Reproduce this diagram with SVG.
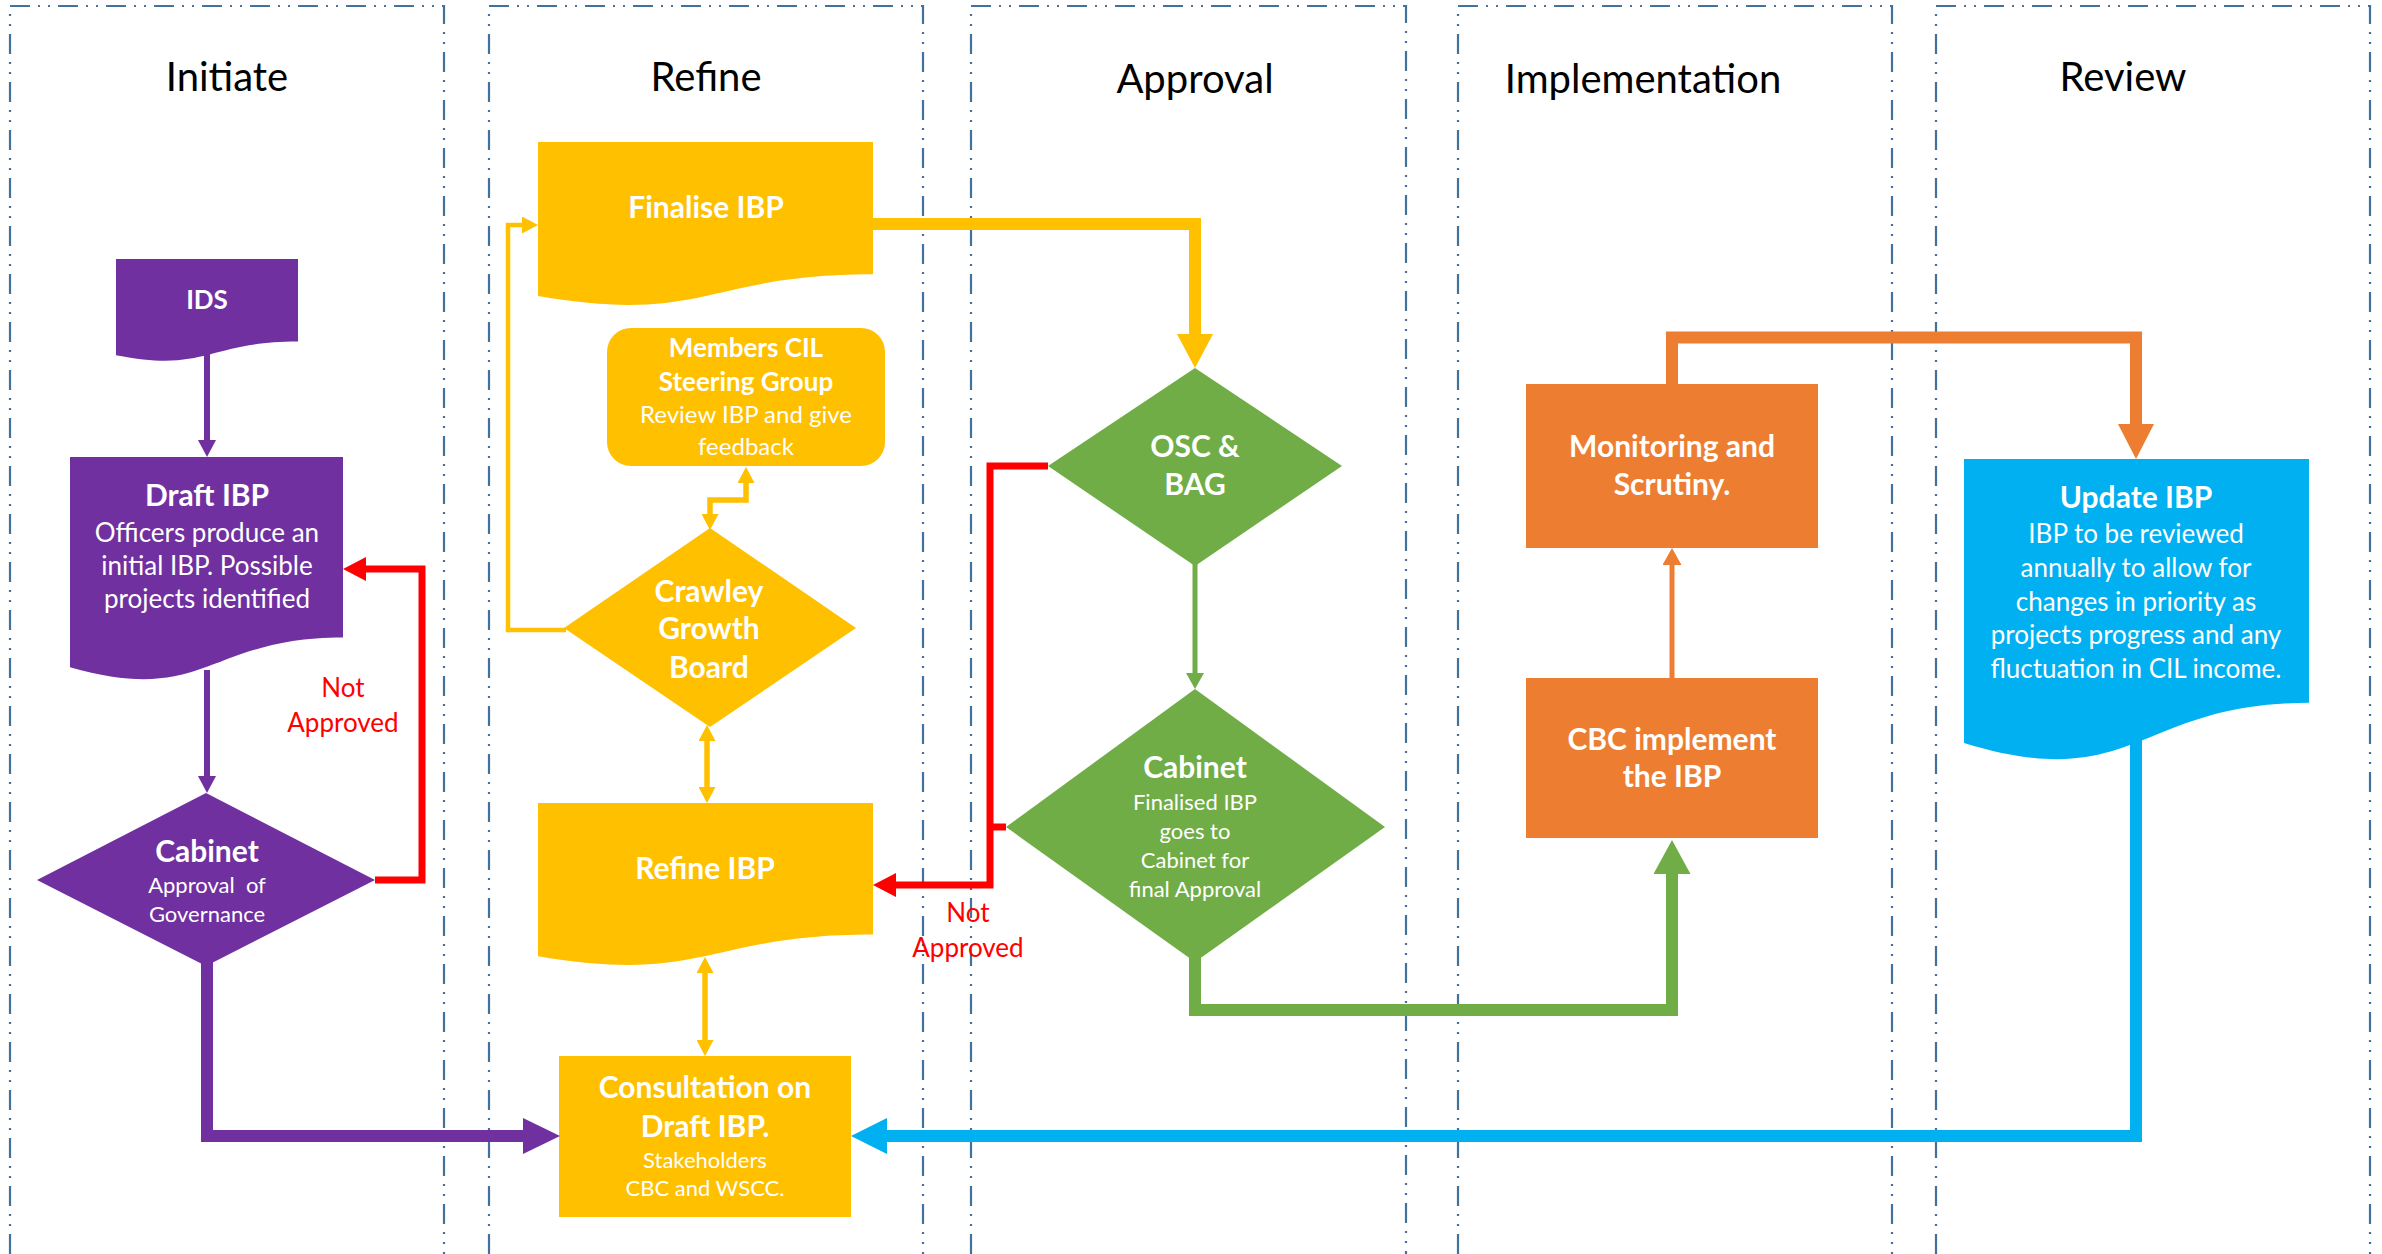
<svg xmlns="http://www.w3.org/2000/svg" width="2382" height="1254" viewBox="0 0 2382 1254">
<style>
.lane{fill:none;stroke:#41719C;stroke-width:2.2;stroke-dasharray:20 8 2 8 2 8}
.lt{font-family:Lato,"Open Sans","Liberation Sans",sans-serif;font-size:40px;fill:#000;text-anchor:middle}
text{font-family:Lato,"Open Sans","Liberation Sans",sans-serif;text-anchor:middle}
.w{fill:#fff}
.b{font-weight:bold;font-size:30px}
.r{font-size:26px}
.s{font-size:22px}
.red{fill:#FF0000;font-size:26px}
.pu{fill:#7030A0}.ye{fill:#FFC000}.gr{fill:#70AD47}.or{fill:#ED7D31}.bl{fill:#00B0F0}
.c{fill:none;stroke-linejoin:miter;stroke-linecap:butt}
</style>
<defs>
<marker id="hPuS" markerUnits="userSpaceOnUse" viewBox="0 0 17 18" refX="0" refY="9" markerWidth="17" markerHeight="18" orient="auto"><path d="M0,0L17,9L0,18Z" fill="#7030A0"/></marker>
<marker id="hPuL" markerUnits="userSpaceOnUse" viewBox="0 0 37 36" refX="0" refY="18" markerWidth="37" markerHeight="36" orient="auto"><path d="M0,0L37,18L0,36Z" fill="#7030A0"/></marker>
<marker id="hRed" markerUnits="userSpaceOnUse" viewBox="0 0 23 24" refX="0" refY="12" markerWidth="23" markerHeight="24" orient="auto"><path d="M0,0L23,12L0,24Z" fill="#FF0000"/></marker>
<marker id="hYeL" markerUnits="userSpaceOnUse" viewBox="0 0 34 36" refX="0" refY="18" markerWidth="34" markerHeight="36" orient="auto"><path d="M0,0L34,18L0,36Z" fill="#FFC000"/></marker>
<marker id="hYeS" markerUnits="userSpaceOnUse" viewBox="0 0 16 17" refX="0" refY="8.5" markerWidth="16" markerHeight="17" orient="auto-start-reverse"><path d="M0,0L16,8.5L0,17Z" fill="#FFC000"/></marker>
<marker id="hGrS" markerUnits="userSpaceOnUse" viewBox="0 0 16 18" refX="0" refY="9" markerWidth="16" markerHeight="18" orient="auto"><path d="M0,0L16,9L0,18Z" fill="#70AD47"/></marker>
<marker id="hGrL" markerUnits="userSpaceOnUse" viewBox="0 0 34 37" refX="0" refY="18.5" markerWidth="34" markerHeight="37" orient="auto"><path d="M0,0L34,18.5L0,37Z" fill="#70AD47"/></marker>
<marker id="hOrS" markerUnits="userSpaceOnUse" viewBox="0 0 17 19" refX="0" refY="9.5" markerWidth="17" markerHeight="19" orient="auto"><path d="M0,0L17,9.5L0,19Z" fill="#ED7D31"/></marker>
<marker id="hOrL" markerUnits="userSpaceOnUse" viewBox="0 0 35 36" refX="0" refY="18" markerWidth="35" markerHeight="36" orient="auto"><path d="M0,0L35,18L0,36Z" fill="#ED7D31"/></marker>
<marker id="hBlL" markerUnits="userSpaceOnUse" viewBox="0 0 36 36" refX="0" refY="18" markerWidth="36" markerHeight="36" orient="auto"><path d="M0,0L36,18L0,36Z" fill="#00B0F0"/></marker>
</defs>
<rect width="2382" height="1254" fill="#fff"/>

<g id="lanes">
<path class="lane" d="M10,1254V6H444V1254"/>
<path class="lane" d="M489,1254V6H923V1254"/>
<path class="lane" d="M971,1254V6H1406V1254"/>
<path class="lane" d="M1458,1254V6H1892V1254"/>
<path class="lane" d="M1936,1254V6H2370V1254"/>
<text class="lt" x="227" y="91">Initiate</text>
<text class="lt" x="706" y="91">Refine</text>
<text class="lt" x="1195" y="93">Approval</text>
<text class="lt" x="1643" y="93">Implementation</text>
<text class="lt" x="2123" y="91">Review</text>
</g>

<g id="ids">
<path class="pu" d="M116,259H298V341.6C207,341.6 207,373.1 116,355.2Z"/>
<text class="w b" x="207" y="309" style="font-size:26px">IDS</text>
</g>

<g id="draft-ibp">
<path class="pu" d="M70,457H343V637.5C206.5,637.5 206.5,706.2 70,667.2Z"/>
<text class="w b" x="207" y="506">Draft IBP</text>
<text class="w r" x="207" y="542">Officers produce an</text>
<text class="w r" x="207" y="575">initial IBP. Possible</text>
<text class="w r" x="207" y="608">projects identified</text>
</g>

<g id="cabinet-governance">
<polygon class="pu" points="206,793 375,880 206,966 37,880"/>
<text class="w b" x="207" y="862">Cabinet</text>
<text class="w s" x="207" y="893" style="white-space:pre">Approval  of</text>
<text class="w s" x="207" y="922">Governance</text>
</g>

<g id="finalise-ibp">
<path class="ye" d="M538,142H873V274.3C705.5,274.3 705.5,324.7 538,296.1Z"/>
<text class="w b" x="706" y="218">Finalise IBP</text>
</g>

<g id="members-cil">
<rect class="ye" x="607" y="328" width="278" height="138" rx="24"/>
<text class="w b" x="746" y="357" style="font-size:26px">Members CIL</text>
<text class="w b" x="746" y="391" style="font-size:26px">Steering Group</text>
<text class="w r" x="746" y="423" style="font-size:24px">Review IBP and give</text>
<text class="w r" x="746" y="455" style="font-size:24px">feedback</text>
</g>

<g id="crawley-growth-board">
<polygon class="ye" points="710,528 856,628 710,727 564,628"/>
<text class="w b" x="709" y="602">Crawley</text>
<text class="w b" x="709" y="639">Growth</text>
<text class="w b" x="709" y="678">Board</text>
</g>

<g id="refine-ibp">
<path class="ye" d="M538,803H873V934.5C705.5,934.5 705.5,984.6 538,956.2Z"/>
<text class="w b" x="705" y="879">Refine IBP</text>
</g>

<g id="consultation">
<rect class="ye" x="559" y="1056" width="292" height="161"/>
<text class="w b" x="705" y="1098">Consultation on</text>
<text class="w b" x="705" y="1137">Draft IBP.</text>
<text class="w s" x="705" y="1168">Stakeholders</text>
<text class="w s" x="705" y="1196">CBC and WSCC.</text>
</g>

<g id="osc-bag">
<polygon class="gr" points="1195,368 1342,466 1195,566 1048,466"/>
<text class="w b" x="1195" y="457">OSC &amp;</text>
<text class="w b" x="1195" y="495">BAG</text>
</g>

<g id="cabinet-final">
<polygon class="gr" points="1195,689 1385,827 1195,962 1006,827"/>
<text class="w b" x="1195" y="778">Cabinet</text>
<text class="w s" x="1195" y="810">Finalised IBP</text>
<text class="w s" x="1195" y="839">goes to</text>
<text class="w s" x="1195" y="868">Cabinet for</text>
<text class="w s" x="1195" y="897">final Approval</text>
</g>

<g id="monitoring">
<rect class="or" x="1526" y="384" width="292" height="164"/>
<text class="w b" x="1672" y="457">Monitoring and</text>
<text class="w b" x="1672" y="495">Scrutiny.</text>
</g>

<g id="cbc-implement">
<rect class="or" x="1526" y="678" width="292" height="160"/>
<text class="w b" x="1672" y="750">CBC implement</text>
<text class="w b" x="1672" y="787">the IBP</text>
</g>

<g id="update-ibp">
<path class="bl" d="M1964,459H2309V702.8C2136.5,702.8 2136.5,795.7 1964,742.9Z"/>
<text class="w b" x="2136" y="508">Update IBP</text>
<text class="w r" x="2136" y="543">IBP to be reviewed</text>
<text class="w r" x="2136" y="577">annually to allow for</text>
<text class="w r" x="2136" y="611">changes in priority as</text>
<text class="w r" x="2136" y="644">projects progress and any</text>
<text class="w r" x="2136" y="678">fluctuation in CIL income.</text>
</g>

<g id="connectors">
<path class="c" stroke="#7030A0" stroke-width="6" d="M207,350V440" marker-end="url(#hPuS)"/>
<path class="c" stroke="#7030A0" stroke-width="6" d="M207,670V776" marker-end="url(#hPuS)"/>
<path class="c" stroke="#7030A0" stroke-width="12" d="M207,950V1136H523" marker-end="url(#hPuL)"/>
<path class="c" stroke="#FF0000" stroke-width="7" d="M375,880H422V569H366" marker-end="url(#hRed)"/>
<path class="c" stroke="#FFC000" stroke-width="12" d="M860,224H1195V334" marker-end="url(#hYeL)"/>
<path class="c" stroke="#FFC000" stroke-width="4.5" d="M566,630H508V225H522" marker-end="url(#hYeS)"/>
<path class="c" stroke="#FFC000" stroke-width="5.5" d="M710,514V500H746V483" marker-start="url(#hYeS)" marker-end="url(#hYeS)"/>
<path class="c" stroke="#FFC000" stroke-width="5.5" d="M707,741V787" marker-start="url(#hYeS)" marker-end="url(#hYeS)"/>
<path class="c" stroke="#FFC000" stroke-width="5.5" d="M705,973V1040" marker-start="url(#hYeS)" marker-end="url(#hYeS)"/>
<path class="c" stroke="#70AD47" stroke-width="5" d="M1195,560V673" marker-end="url(#hGrS)"/>
<path class="c" stroke="#FF0000" stroke-width="7" d="M1048,466H990V885H896" marker-end="url(#hRed)"/>
<path class="c" stroke="#FF0000" stroke-width="7" d="M1006,827H990"/>
<path class="c" stroke="#70AD47" stroke-width="12" d="M1195,950V1010H1672V874" marker-end="url(#hGrL)"/>
<path class="c" stroke="#ED7D31" stroke-width="5" d="M1672,685V565" marker-end="url(#hOrS)"/>
<path class="c" stroke="#ED7D31" stroke-width="12" d="M1672,390V337.5H2136V424" marker-end="url(#hOrL)"/>
<path class="c" stroke="#00B0F0" stroke-width="12" d="M2136,730V1136H887" marker-end="url(#hBlL)"/>
</g>

<g id="labels">
<text class="red" x="343" y="697">Not</text>
<text class="red" x="343" y="732">Approved</text>
<text class="red" x="968" y="922">Not</text>
<text class="red" x="968" y="957">Approved</text>
</g>
</svg>
